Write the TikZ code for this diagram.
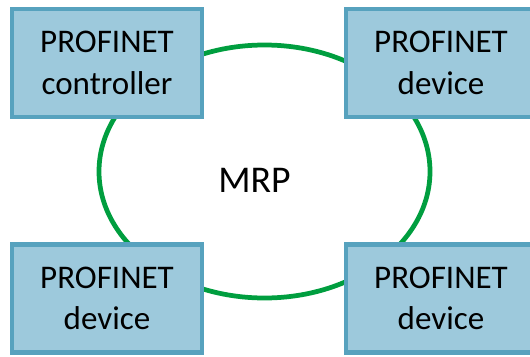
\documentclass[tikz,border=0pt]{standalone}
\usepackage{fontspec}
\setmainfont{Carlito}
\usepackage{tikz}
\usetikzlibrary{positioning,shapes.geometric}
\definecolor{devfill}{HTML}{9DC9DC}
\definecolor{devline}{HTML}{57A2BE}
\definecolor{ringgreen}{HTML}{009E3F}
\tikzset{
  devbox/.style={
    rectangle, draw=devline, line width=2.3pt, fill=devfill,
    minimum width=3.8cm, minimum height=2.16cm, inner sep=0pt,
    align=center, font=\fontsize{18.8}{23.5}\selectfont
  },
  ringline/.style={
    ellipse, draw=ringgreen, line width=2.7pt, inner sep=0pt,
    minimum width=6.62cm, minimum height=5.06cm
  }
}
\begin{document}
\begin{tikzpicture}
\useasboundingbox (0,0) rectangle (10.6,7.12);
% the ring goes underneath the boxes
\node[ringline] (ring) at (5.29,3.69) {};
\node[anchor=base, font=\fontsize{21.5}{25}\selectfont] (mrp) at (5.09,3.28) {MRP};

\node[devbox] (ctrl) at (2.14,5.86) {PROFINET\\controller};
\node[devbox] (devtr) at (8.82,5.86) {PROFINET\\device};
\node[devbox] (devbl) at (2.14,1.15) {PROFINET\\device};
\node[devbox] (devbr) at (8.82,1.15) {PROFINET\\device};
\end{tikzpicture}
\end{document}
